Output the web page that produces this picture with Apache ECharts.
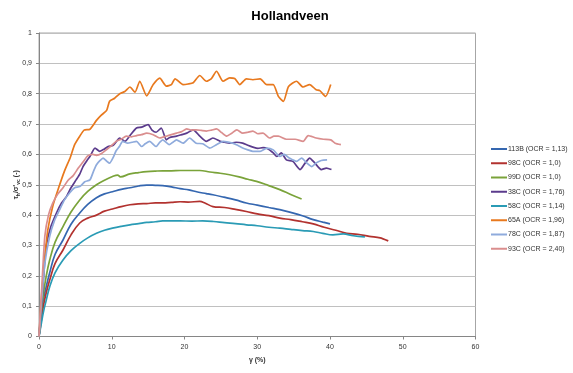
<!DOCTYPE html>
<html><head><meta charset="utf-8">
<script src="https://cdn.jsdelivr.net/npm/echarts@6/dist/echarts.min.js"></script>
<style>html,body{margin:0;padding:0;background:#fff}#c{width:573px;height:373px}</style>
</head><body><div id="c"></div>
<script>
const seriesNames = ['113B (OCR = 1,13)','98C (OCR = 1,0)','99D (OCR = 1,0)','38C (OCR = 1,76)','58C (OCR = 1,14)','65A (OCR = 1,96)','78C (OCR = 1,87)','93C (OCR = 2,40)'];
const seriesColors = ['#3567b0','#b2322f','#7aa33a','#5b3b8c','#2a9bb5','#e8791e','#8fabdc','#da8e8e'];
const xTicks = [0,10,20,30,40,50,60];
const yTicks = [0,0.1,0.2,0.3,0.4,0.5,0.6,0.7,0.8,0.9,1];

const s113B = [[0,0],[0.25,0.06],[0.5,0.11],[1.0,0.165],[1.47,0.21],[2.2,0.27],[3.3,0.318],[4.4,0.37],[5.6,0.407],[6.7,0.435],[7.9,0.457],[9,0.47],[10.1,0.477],[11.3,0.485],[12.5,0.49],[13.7,0.496],[14.8,0.499],[16,0.498],[17,0.497],[18.2,0.493],[19.4,0.487],[20.6,0.483],[21.8,0.476],[23,0.471],[23.9,0.467],[25.4,0.459],[27,0.45],[28.5,0.44],[30,0.433],[31.6,0.425],[33.1,0.418],[34.6,0.409],[36.2,0.398],[37.7,0.385],[39,0.377],[40,0.371]];
const s98C = [[0,0],[0.3,0.05],[0.6,0.1],[1,0.145],[1.47,0.186],[2.2,0.24],[3.3,0.285],[4.4,0.335],[5.6,0.374],[6.7,0.39],[7.9,0.4],[9,0.413],[10.1,0.42],[11.3,0.428],[12.5,0.434],[13.7,0.437],[14.8,0.438],[16,0.44],[17,0.44],[18.2,0.442],[19.4,0.444],[20.5,0.443],[22.1,0.445],[22.8,0.44],[23.9,0.428],[25.5,0.425],[27,0.419],[28.5,0.412],[30,0.404],[31.6,0.398],[33.1,0.39],[34.6,0.385],[36.2,0.378],[37.7,0.371],[39.2,0.36],[40.8,0.35],[42.3,0.34],[43.8,0.337],[45.4,0.33],[46.9,0.325],[48,0.315]];
const s99D = [[0,0],[0.3,0.08],[0.6,0.14],[1,0.2],[1.47,0.252],[2.2,0.31],[3.3,0.362],[4.4,0.41],[5.6,0.45],[6.7,0.478],[7.9,0.5],[9,0.515],[10.1,0.527],[10.8,0.532],[11.2,0.526],[12.5,0.536],[13.7,0.54],[14.8,0.543],[16,0.545],[17,0.546],[18.2,0.546],[19.4,0.547],[20.8,0.547],[22.1,0.547],[23.5,0.542],[24.9,0.538],[26.2,0.533],[27.5,0.526],[28.7,0.518],[29.9,0.511],[31.5,0.498],[33.1,0.484],[34.6,0.468],[36.1,0.453]];
const s38C = [[0,0],[0.4,0.12],[0.8,0.25],[1.0,0.3],[1.6,0.36],[2.4,0.407],[3.1,0.44],[3.77,0.461],[4.4,0.49],[5.1,0.516],[5.6,0.535],[6.05,0.56],[6.6,0.58],[7,0.593],[7.7,0.621],[8.35,0.61],[9,0.618],[9.5,0.626],[10.2,0.63],[11.1,0.654],[11.8,0.643],[12.5,0.662],[13.4,0.687],[14.1,0.69],[15,0.698],[15.5,0.681],[16.1,0.673],[16.8,0.687],[17.5,0.648],[17.9,0.655],[18.9,0.66],[19.6,0.665],[20.3,0.67],[21.2,0.681],[22.1,0.66],[23,0.643],[23.9,0.654],[24.9,0.643],[25.5,0.64],[26.2,0.637],[27.1,0.64],[28,0.637],[28.7,0.63],[29.4,0.624],[30.1,0.62],[30.8,0.622],[31.5,0.618],[32.2,0.605],[32.7,0.593],[33.3,0.605],[34,0.582],[34.9,0.577],[35.9,0.55],[36.6,0.572],[37.2,0.588],[37.9,0.572],[38.8,0.55],[39.5,0.555],[40.2,0.55]];
const s58C = [[0,0],[0.3,0.04],[0.6,0.08],[1,0.12],[1.47,0.164],[2.2,0.21],[3.3,0.252],[4.4,0.283],[5.6,0.307],[6.7,0.325],[7.9,0.34],[9,0.35],[10.1,0.357],[11.3,0.363],[12.5,0.368],[13.7,0.372],[14.8,0.376],[16,0.378],[17,0.381],[18.2,0.381],[19.4,0.381],[21,0.38],[22.5,0.381],[24,0.379],[25.5,0.375],[27,0.372],[28.5,0.368],[30,0.365],[31.6,0.36],[33.1,0.357],[34.6,0.353],[36.2,0.349],[37.7,0.346],[39,0.34],[40.4,0.335],[41.8,0.338],[43.2,0.332],[44.8,0.328]];
const s65A = [[0,0],[0.4,0.15],[0.8,0.26],[1.2,0.35],[1.9,0.43],[2.7,0.49],[3.5,0.545],[4.3,0.59],[4.9,0.632],[5.6,0.66],[6.2,0.68],[7,0.683],[7.9,0.712],[8.6,0.73],[9.3,0.745],[9.7,0.775],[10.4,0.785],[11.1,0.8],[11.8,0.807],[12.5,0.822],[13.2,0.805],[13.85,0.841],[14.8,0.793],[15.7,0.83],[16.6,0.851],[17.5,0.825],[18.2,0.83],[18.7,0.849],[19.8,0.83],[20.5,0.832],[21.2,0.836],[22.1,0.86],[23,0.841],[23.7,0.85],[24.4,0.874],[25.3,0.841],[26.2,0.852],[26.9,0.85],[27.6,0.83],[28.5,0.849],[29.4,0.846],[30.4,0.849],[31.3,0.83],[32.2,0.83],[32.9,0.791],[33.6,0.775],[34.3,0.824],[35.4,0.841],[36.3,0.822],[37.2,0.83],[38.1,0.813],[38.6,0.81],[39.4,0.791],[40.1,0.83]];
const s78C = [[0,0],[0.4,0.13],[0.8,0.24],[1.47,0.33],[2.1,0.38],[2.85,0.418],[3.5,0.45],[4.2,0.473],[4.9,0.49],[5.6,0.494],[6.3,0.51],[7,0.516],[7.5,0.545],[7.9,0.566],[8.4,0.58],[8.8,0.588],[9.3,0.578],[9.7,0.571],[10.2,0.59],[10.6,0.612],[11.1,0.628],[11.5,0.643],[12.2,0.637],[12.8,0.64],[13.4,0.643],[14.1,0.626],[14.6,0.635],[15.2,0.643],[16.1,0.626],[16.6,0.64],[17,0.648],[17.9,0.632],[18.4,0.64],[18.9,0.648],[19.8,0.637],[20.7,0.654],[21.6,0.637],[22.5,0.635],[23.5,0.621],[24.4,0.632],[25.3,0.643],[26.6,0.637],[27.3,0.63],[28,0.621],[28.7,0.615],[29.4,0.61],[30.4,0.61],[31.3,0.621],[32.2,0.615],[33.1,0.593],[33.7,0.6],[34.4,0.588],[35.4,0.577],[36.1,0.588],[36.8,0.572],[37.5,0.56],[38.1,0.572],[38.8,0.58],[39.6,0.582]];
const s93C = [[0,0],[0.4,0.17],[0.8,0.33],[1.3,0.4],[1.9,0.44],[2.6,0.47],[3.3,0.49],[4,0.515],[4.7,0.53],[5.4,0.555],[6.05,0.575],[6.7,0.595],[7.4,0.6],[7.9,0.597],[8.6,0.603],[9.3,0.616],[10,0.63],[10.6,0.643],[11.3,0.65],[12,0.66],[12.7,0.658],[13.4,0.662],[14.1,0.665],[14.8,0.67],[15.7,0.665],[16.6,0.654],[17.5,0.66],[18.2,0.665],[18.9,0.67],[19.6,0.675],[20.3,0.684],[21,0.68],[21.6,0.681],[22.3,0.679],[23,0.677],[23.7,0.68],[24.4,0.684],[25.1,0.672],[25.8,0.66],[26.5,0.67],[27.2,0.681],[28,0.67],[28.7,0.673],[29.4,0.677],[30.1,0.668],[30.8,0.67],[31.7,0.654],[32.3,0.66],[32.9,0.66],[34,0.65],[35.2,0.65],[36.3,0.643],[37,0.662],[38.1,0.654],[39.1,0.65],[40.1,0.648],[40.7,0.637],[41.5,0.632]];

const allData = [s113B, s98C, s99D, s38C, s58C, s65A, s78C, s93C];
const FONT = '"Liberation Sans", Arial, sans-serif';

const chart = echarts.init(document.getElementById('c'), null, {renderer:'canvas'});
chart.setOption({
  animation: false,
  backgroundColor: '#fff',
  title: {text: 'Hollandveen', left: 285, top: 5, textAlign: 'center',
    textStyle: {fontFamily: FONT, fontSize: 13, fontWeight: 'bold', color: '#000'}},
  grid: {left: 39, right: 97.5, top: 33, bottom: 36.5, containLabel: false, outerBoundsMode: 'none',
    show: true, borderColor: '#a6a6a6', borderWidth: 1},
  legend: {
    orient: 'vertical', left: 491, top: 144, padding: 0, itemWidth: 16, itemHeight: 2, itemGap: 4.25,
    icon: 'rect',
    textStyle: {fontFamily: FONT, fontSize: 7, color: '#333', padding: [0,0,0,-4], lineHeight: 10},
    data: seriesNames
  },
  xAxis: {
    type: 'value', min: xTicks[0], max: xTicks[xTicks.length-1], interval: 10,
    name: 'γ (%)', nameLocation: 'middle', nameGap: 20,
    nameTextStyle: {fontFamily: FONT, fontSize: 7, fontWeight: 'bold', color: '#333'},
    axisLine: {show: true, lineStyle: {color: '#868686'}},
    axisTick: {show: true, length: 3, lineStyle: {color: '#868686'}},
    axisLabel: {fontFamily: FONT, fontSize: 7, color: '#333', margin: 7},
    splitLine: {show: false}
  },
  yAxis: {
    type: 'value', min: yTicks[0], max: yTicks[yTicks.length-1], interval: 0.1,
    name: '{t|τ}{s|h}{t|/σ\'}{s|vc}{t| (-)}', nameLocation: 'middle', nameGap: 18, nameRotate: 90,
    nameMoveOverlap: false,
    nameTextStyle: {rich: {
      t: {fontFamily: FONT, fontSize: 7, fontWeight: 'bold', color: '#333'},
      s: {fontFamily: FONT, fontSize: 5, fontWeight: 'bold', color: '#333', verticalAlign: 'bottom', padding:[4,0,0,0]}
    }},
    axisLine: {show: true, lineStyle: {color: '#868686'}},
    axisTick: {show: true, length: 3, lineStyle: {color: '#868686'}},
    axisLabel: {fontFamily: FONT, fontSize: 7, color: '#333', margin: 7,
      formatter: v => String(+v.toFixed(1)).replace('.', ',')},
    splitLine: {show: true, lineStyle: {color: '#c0c0c0', width: 1}}
  },
  series: seriesNames.map((n, i) => ({
    name: n, type: 'line', data: allData[i], showSymbol: false, symbol: 'none',
    smooth: i === 3 || i >= 5 ? 0.2 : 0.4,
    lineStyle: {width: 1.7, color: seriesColors[i]}, itemStyle: {color: seriesColors[i]}
  }))
});
</script></body></html>
